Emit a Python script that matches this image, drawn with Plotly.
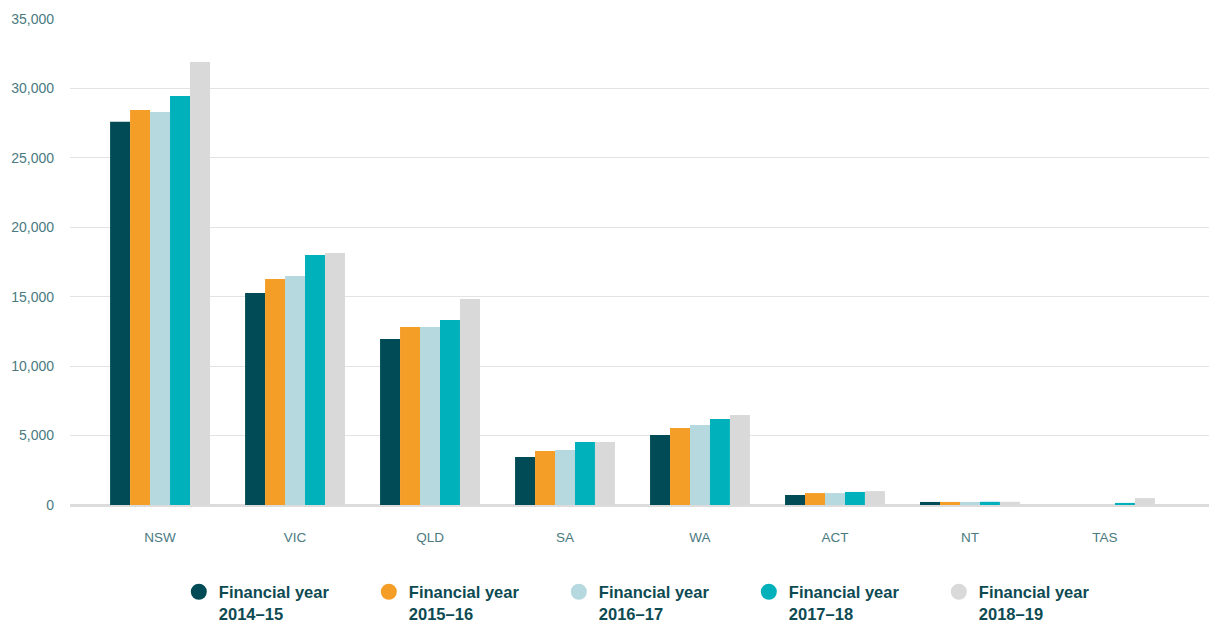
import plotly.graph_objects as go

categories = ["NSW", "VIC", "QLD", "SA", "WA", "ACT", "NT", "TAS"]
series_names = ["Financial year<br>2014–15", "Financial year<br>2015–16", "Financial year<br>2016–17",
                "Financial year<br>2017–18", "Financial year<br>2018–19"]
fy_2014_15 = [27600, 15270, 11950, 3460, 5040, 720, 220, 0]
fy_2015_16 = [28450, 16280, 12820, 3890, 5550, 860, 220, 0]
fy_2016_17 = [28300, 16490, 12820, 3960, 5760, 860, 220, 0]
fy_2017_18 = [29450, 18000, 13320, 4540, 6190, 940, 230, 150]
fy_2018_19 = [31900, 18150, 14840, 4540, 6480, 1000, 230, 500]
colors = ["#004b55", "#f59e27", "#b5d9df", "#00b1bb", "#d9d9d9"]
y_ticks = [0, 5000, 10000, 15000, 20000, 25000, 30000, 35000]

series = [fy_2014_15, fy_2015_16, fy_2016_17, fy_2017_18, fy_2018_19]

fig = go.Figure()
for name, vals, col in zip(series_names, series, colors):
    fig.add_trace(go.Bar(x=categories, y=vals, name=name, marker_color=col,
                         marker_line_width=0, showlegend=False))
for name, col in zip(series_names, colors):
    fig.add_trace(go.Scatter(x=[None], y=[None], mode="markers", name=name,
                             marker=dict(symbol="circle", size=17, color=col)))

fig.update_layout(
    width=1209, height=617,
    margin=dict(l=62, r=0, t=11, b=120, autoexpand=False),
    plot_bgcolor="white", paper_bgcolor="white",
    barmode="group", bargap=0.26, bargroupgap=0,
    font=dict(family="Liberation Sans, Arial, sans-serif", color="#4a7a80", size=13),
    legend=dict(orientation="h", x=0.509, xanchor="center", y=-0.143, yanchor="top",
                font=dict(size=16.5, color="#0d4a52", family="Liberation Sans, Arial, sans-serif", weight="bold"),
                entrywidth=145, entrywidthmode="pixels", valign="top", itemclick=False,
                tracegroupgap=0),
)
fig.update_xaxes(range=[-0.667, 7.83], showgrid=False, showline=False, ticks="",
                 tickfont=dict(size=13.5, color="#4a7a80"), ticklabelstandoff=22)
fig.update_yaxes(range=[0, 35000], tickvals=y_ticks, tickformat=",", showgrid=True,
                 gridcolor="#e3e3e3", gridwidth=1, zeroline=True, zerolinecolor="#dcdcdc",
                 zerolinewidth=3, showline=False, ticks="", ticklabelstandoff=15,
                 tickfont=dict(size=14, color="#4a7a80"))

fig.write_html("out.html")
